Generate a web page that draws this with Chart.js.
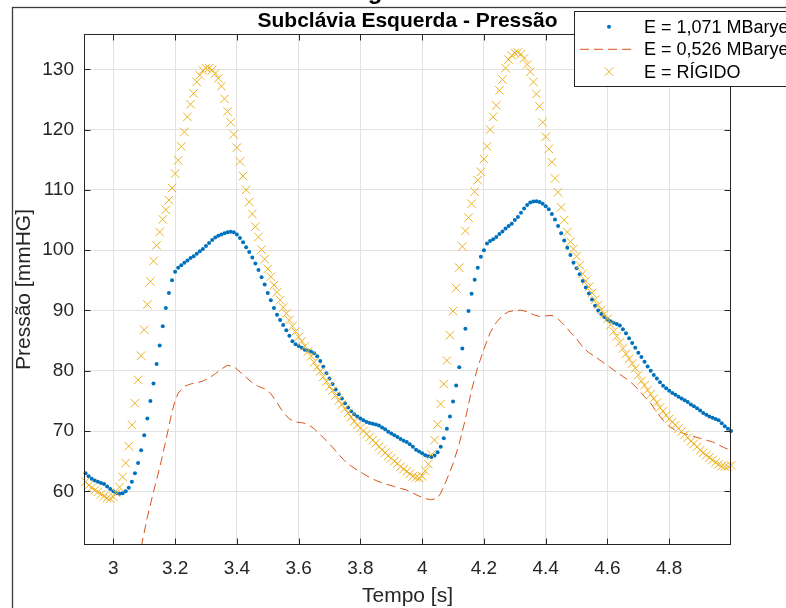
<!DOCTYPE html>
<html>
<head>
<meta charset="utf-8">
<script src="https://cdn.jsdelivr.net/npm/chart.js@4.4.1/dist/chart.umd.min.js"></script>
<style>
  html, body { margin: 0; padding: 0; background: #fff; }
  #wrap { width: 786px; height: 608px; }
</style>
</head>
<body>
<div id="wrap"><canvas id="c" width="786" height="608"></canvas></div>
<script>
// ── DATA ──
// marker series are sampled every 0.01 s, from 2.91 s to 5.00 s
const tStart = 2.91;
const tStep  = 0.01;

// E = 1,071 MBarye (blue dots)
const pressaoE1071 = [
    63.0, 62.5, 62.1, 61.8, 61.6, 61.4, 61.2, 60.8, 60.4, 60.0,
    59.7, 59.6, 59.7, 60.0, 60.6, 61.6, 63.0, 64.7, 66.8, 69.3,
    72.1, 75.0, 77.9, 81.1, 84.2, 87.4, 90.4, 92.9, 95.0, 96.4,
    97.1, 97.5, 97.9, 98.3, 98.7, 99.0, 99.4, 99.8, 100.2, 100.7,
    101.2, 101.7, 102.1, 102.4, 102.6, 102.8, 102.95, 103.05, 102.95, 102.6,
    102.0, 101.3, 100.5, 99.7, 98.8, 97.8, 96.7, 95.5, 94.3, 92.9,
    91.7, 90.4, 89.3, 88.4, 87.6, 86.7, 85.8, 84.9, 84.4, 84.1,
    83.8, 83.5, 83.35, 83.2, 82.9, 82.4, 81.6, 80.65, 79.6, 78.7,
    77.8, 76.9, 76.1, 75.4, 74.6, 73.9, 73.3, 72.8, 72.4, 72.1,
    71.8, 71.5, 71.35, 71.2, 71.1, 70.9, 70.6, 70.3, 69.9, 69.6,
    69.3, 69.0, 68.7, 68.4, 68.2, 67.8, 67.4, 66.9, 66.6, 66.3,
    66.0, 65.8, 65.7, 65.95, 66.5, 67.4, 68.8, 70.4, 72.4, 74.9,
    77.55, 80.6, 83.7, 86.95, 89.9, 92.75, 95.1, 97.1, 98.9, 100.0,
    101.1, 101.5, 101.8, 102.2, 102.7, 103.1, 103.6, 104.0, 104.4, 105.0,
    105.5, 106.2, 106.9, 107.5, 107.9, 108.05, 108.1, 108.0, 107.7, 107.3,
    106.8, 106.0, 105.1, 104.0, 102.8, 101.6, 100.4, 99.2, 97.9, 97.0,
    96.0, 94.9, 93.8, 92.8, 91.8, 90.8, 90.0, 89.4, 88.9, 88.5,
    88.2, 87.95, 87.75, 87.5, 86.9, 86.2, 85.4, 84.6, 83.8, 83.0,
    82.3, 81.5, 80.7, 80.0, 79.3, 78.7, 78.1, 77.5, 77.1, 76.7,
    76.3, 76.0, 75.7, 75.4, 75.1, 74.8, 74.4, 74.1, 73.8, 73.4,
    73.0, 72.7, 72.4, 72.2, 72.0, 71.8, 71.3, 70.8, 70.4, 70.0
];

// E = RÍGIDO (yellow crosses)
const pressaoRigido = [
    61.6, 61.0, 60.6, 60.2, 59.9, 59.5, 59.2, 58.9, 58.8, 59.1,
    59.7, 60.7, 62.4, 64.7, 67.5, 71.0, 74.6, 78.5, 82.5, 86.8,
    91.0, 94.8, 98.2, 100.8, 103.0, 105.1, 106.7, 108.3, 110.3, 112.7,
    114.9, 117.2, 119.6, 122.1, 124.2, 126.0, 127.9, 129.0, 129.8, 130.2,
    130.2, 129.9, 129.3, 128.5, 127.2, 125.1, 123.0, 121.2, 119.2, 117.0,
    114.7, 112.3, 110.0, 108.0, 106.0, 103.9, 102.2, 100.1, 98.5, 96.9,
    95.6, 94.2, 93.0, 91.7, 90.5, 89.5, 88.4, 87.4, 86.5, 85.6,
    84.9, 84.1, 83.2, 82.4, 81.4, 80.6, 79.9, 79.0, 78.2, 77.4,
    76.7, 75.9, 75.1, 74.4, 73.7, 73.0, 72.3, 71.6, 71.0, 70.5,
    70.0, 69.5, 69.0, 68.5, 68.0, 67.4, 66.9, 66.4, 65.9, 65.5,
    65.0, 64.6, 64.1, 63.7, 63.3, 62.9, 62.5, 62.3, 62.2, 62.5,
    63.4, 64.5, 66.1, 68.5, 71.1, 74.5, 77.8, 81.7, 85.9, 89.9,
    93.7, 97.1, 100.6, 103.2, 105.4, 107.7, 109.7, 111.6, 113.0, 115.1,
    117.2, 120.0, 122.1, 124.0, 126.5, 128.3, 130.2, 131.6, 132.3, 132.7,
    132.8, 132.5, 131.8, 130.8, 129.6, 127.9, 125.9, 123.85, 121.2, 118.8,
    116.8, 114.6, 111.9, 109.6, 107.1, 105.0, 103.0, 101.4, 100.2, 99.0,
    97.5, 96.1, 94.9, 93.9, 92.9, 91.8, 90.9, 90.1, 89.4, 88.6,
    87.6, 86.5, 85.7, 84.7, 83.7, 82.8, 82.0, 81.2, 80.4, 79.3,
    78.3, 77.6, 76.8, 76.1, 75.4, 74.7, 73.9, 73.3, 72.6, 72.0,
    71.5, 71.0, 70.4, 69.9, 69.4, 68.9, 68.3, 67.9, 67.4, 66.8,
    66.4, 66.0, 65.6, 65.2, 64.8, 64.5, 64.2, 64.1, 64.1, 64.3
];

// E = 0,526 MBarye (red dashed line)
const tempoE0526 = [
    3.06, 3.09, 3.11, 3.13, 3.15, 3.17, 3.19, 3.20, 3.21, 3.23,
    3.25, 3.27, 3.29, 3.31, 3.33, 3.35, 3.37, 3.39, 3.41, 3.43,
    3.45, 3.47, 3.49, 3.51, 3.53, 3.55, 3.57, 3.59, 3.61, 3.63,
    3.65, 3.67, 3.69, 3.71, 3.73, 3.75, 3.77, 3.79, 3.81, 3.83,
    3.85, 3.87, 3.89, 3.91, 3.93, 3.95, 3.97, 3.99, 4.01, 4.03,
    4.05, 4.06, 4.07, 4.08, 4.10, 4.12, 4.14, 4.16, 4.18, 4.20,
    4.22, 4.24, 4.26, 4.28, 4.30, 4.32, 4.34, 4.36, 4.38, 4.40,
    4.42, 4.44, 4.46, 4.48, 4.50, 4.52, 4.54, 4.56, 4.58, 4.60,
    4.62, 4.64, 4.66, 4.68, 4.70, 4.72, 4.74, 4.76, 4.78, 4.80,
    4.82, 4.84, 4.86, 4.88, 4.90, 4.92, 4.94, 4.96, 4.98, 5.00
];
const pressaoE0526 = [
    44.0, 50.7, 55.7, 59.9, 63.9, 68.4, 73.2, 75.0, 76.3, 77.4,
    77.8, 78.0, 78.3, 78.8, 79.5, 80.3, 80.9, 80.7, 79.8, 78.9,
    78.0, 77.4, 77.0, 76.2, 74.7, 73.1, 72.0, 71.5, 71.4, 71.1,
    70.4, 69.4, 68.4, 67.3, 66.1, 65.0, 64.2, 63.5, 62.9, 62.3,
    61.8, 61.4, 61.1, 60.8, 60.5, 60.2, 59.7, 59.2, 58.8, 58.6,
    58.9, 59.7, 60.8, 62.0, 64.6, 67.9, 72.0, 76.8, 80.6, 83.6,
    86.3, 88.0, 89.2, 89.8, 90.0, 90.05, 89.8, 89.3, 89.0, 89.1,
    89.2, 88.6, 87.6, 86.4, 85.3, 83.9, 83.0, 82.3, 81.6, 80.9,
    80.1, 79.4, 78.7, 77.9, 76.9, 75.7, 74.6, 73.1, 71.8, 70.8,
    70.1, 69.7, 69.4, 69.1, 68.8, 68.5, 68.2, 67.7, 67.2, 66.8
];

const xTicks = [3, 3.2, 3.4, 3.6, 3.8, 4, 4.2, 4.4, 4.6, 4.8];
const yTicks = [60, 70, 80, 90, 100, 110, 120, 130];

const labels = ['E = 1,071 MBarye', 'E = 0,526 MBarye', 'E = RÍGIDO'];

// ── COLOURS / FONT ──
const AZUL    = '#0072BD';
const LARANJA = '#D95319';
const AMARELO = '#EDB120';
const FONT    = '"Liberation Sans", Arial, Helvetica, sans-serif';
const CRUZ    = 6;   // cross marker radius

const ptsAzul    = pressaoE1071.map((v, i) => ({ x: +(tStart + i * tStep).toFixed(2), y: v }));
const ptsAmarelo = pressaoRigido.map((v, i) => ({ x: +(tStart + i * tStep).toFixed(2), y: v }));
const ptsLaranja = tempoE0526.map((t, i) => ({ x: t, y: pressaoE0526[i] }));

// ── DECORATIONS: box, inward ticks, titles, legend ──
const decor = {
    id: 'decor',
    afterDraw(chart) {
        const ctx = chart.ctx;
        const { left, right, top, bottom } = chart.chartArea;
        const xs = chart.scales.x, ys = chart.scales.y;
        ctx.save();

        // figure frame (partly off-canvas)
        ctx.strokeStyle = '#3a3a3a';
        ctx.lineWidth = 1.3;
        ctx.strokeRect(12.5, 7.5, 900, 800);

        // bottom of the cut-off figure title
        ctx.fillStyle = '#000';
        ctx.font = 'bold 24px ' + FONT;
        ctx.textAlign = 'center';
        ctx.textBaseline = 'alphabetic';
        ctx.fillText('g', 375, -1);

        // axes box
        ctx.strokeStyle = '#262626';
        ctx.lineWidth = 1;
        const L = Math.round(left) + 0.5, R = Math.round(right) - 0.5;
        const T = Math.round(top) + 0.5,  B = Math.round(bottom) - 0.5;
        ctx.strokeRect(L, T, R - L, B - T);

        // inward tick marks on all four sides
        ctx.beginPath();
        xTicks.forEach(v => {
            const p = Math.round(xs.getPixelForValue(v)) + 0.5;
            ctx.moveTo(p, B); ctx.lineTo(p, B - 6);
            ctx.moveTo(p, T); ctx.lineTo(p, T + 6);
        });
        yTicks.forEach(v => {
            const p = Math.round(ys.getPixelForValue(v)) + 0.5;
            ctx.moveTo(L, p); ctx.lineTo(L + 6, p);
            ctx.moveTo(R, p); ctx.lineTo(R - 6, p);
        });
        ctx.stroke();

        // title
        const cx = (left + right) / 2;
        ctx.fillStyle = '#000';
        ctx.font = 'bold 21px ' + FONT;
        ctx.textAlign = 'center';
        ctx.fillText('Subclávia Esquerda - Pressão', cx, 27);

        // axis titles
        ctx.fillStyle = '#262626';
        ctx.font = '21px ' + FONT;
        ctx.fillText('Tempo [s]', cx, 602);
        ctx.save();
        ctx.translate(30, (top + bottom) / 2);
        ctx.rotate(-Math.PI / 2);
        ctx.fillText('Pressão [mmHG]', 0, 0);
        ctx.restore();

        // legend
        ctx.fillStyle = '#fff';
        ctx.fillRect(574.5, 11.5, 300, 75);
        ctx.strokeStyle = '#262626';
        ctx.strokeRect(574.5, 11.5, 300, 75);
        const rows = [26.7, 49.3, 71.7];
        // blue dot
        ctx.fillStyle = AZUL;
        ctx.beginPath(); ctx.arc(609, rows[0], 2, 0, Math.PI * 2); ctx.fill();
        // red dash
        ctx.strokeStyle = LARANJA;
        ctx.setLineDash([9, 5]);
        ctx.beginPath(); ctx.moveTo(580, rows[1]); ctx.lineTo(636, rows[1]); ctx.stroke();
        ctx.setLineDash([]);
        // yellow cross
        ctx.strokeStyle = AMARELO;
        const d = CRUZ * Math.SQRT1_2;
        ctx.beginPath();
        ctx.moveTo(609 - d, rows[2] - d); ctx.lineTo(609 + d, rows[2] + d);
        ctx.moveTo(609 - d, rows[2] + d); ctx.lineTo(609 + d, rows[2] - d);
        ctx.stroke();
        // texts
        ctx.fillStyle = '#000';
        ctx.font = '18px ' + FONT;
        ctx.textAlign = 'left';
        ctx.textBaseline = 'middle';
        labels.forEach((s, i) => ctx.fillText(s, 644, rows[i] + 1));

        ctx.restore();
    }
};

// ── CHART ──
Chart.defaults.font.family = FONT;

new Chart(document.getElementById('c'), {
    type: 'scatter',
    data: {
        datasets: [
            {
                label: labels[0], data: ptsAzul, order: 3,
                pointStyle: 'circle', pointRadius: 2, pointBorderWidth: 0,
                pointBackgroundColor: AZUL, backgroundColor: AZUL, showLine: false, clip: false
            },
            {
                label: labels[1], data: ptsLaranja, order: 2,
                showLine: true, borderColor: LARANJA, borderWidth: 1, borderDash: [9, 5],
                pointRadius: 0, tension: 0
            },
            {
                label: labels[2], data: ptsAmarelo, order: 1,
                pointStyle: 'crossRot', pointRadius: CRUZ, pointBorderWidth: 1,
                pointBorderColor: AMARELO, borderColor: AMARELO, showLine: false, clip: false
            }
        ]
    },
    options: {
        responsive: false,
        animation: false,
        devicePixelRatio: 1,
        layout: { padding: { top: 34, right: 55, left: 0, bottom: 0 } },
        plugins: { legend: { display: false }, tooltip: { enabled: false } },
        scales: {
            x: {
                type: 'linear', min: 2.905, max: 5.0,
                afterBuildTicks: s => { s.ticks = xTicks.map(v => ({ value: v })); },
                afterFit: s => { s.height = 63; },
                grid: { color: '#e2e2e2', drawTicks: false },
                border: { display: false },
                ticks: {
                    color: '#262626', font: { size: 19 }, padding: 12,
                    autoSkip: false, maxRotation: 0, callback: v => String(v)
                }
            },
            y: {
                type: 'linear', min: 51.1, max: 135.85,
                afterBuildTicks: s => { s.ticks = yTicks.map(v => ({ value: v })); },
                afterFit: s => { s.width = 84; },
                grid: { color: '#e2e2e2', drawTicks: false },
                border: { display: false },
                ticks: {
                    color: '#262626', font: { size: 19 }, padding: 10,
                    autoSkip: false, callback: v => String(v)
                }
            }
        }
    },
    plugins: [decor]
});
</script>
</body>
</html>
